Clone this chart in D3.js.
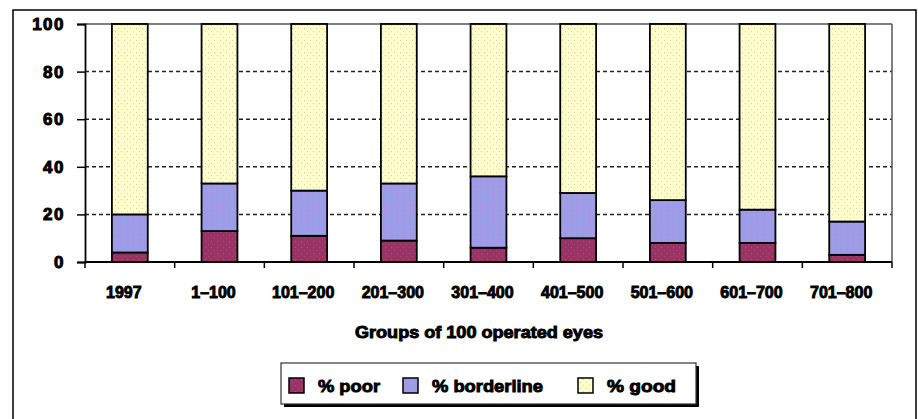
<!DOCTYPE html>
<html>
<head>
<meta charset="utf-8">
<script src="https://cdn.jsdelivr.net/npm/d3@7/dist/d3.min.js"></script>
<style>
  html, body { margin: 0; padding: 0; background: #fff; }
  svg { display: block; }
  text { font-family: "Liberation Sans", Arial, sans-serif; font-weight: bold; fill: #000; }
</style>
</head>
<body>
<svg id="chart" width="918" height="419"></svg>
<script>
const categories = ["1997", "1–100", "101–200", "201–300", "301–400", "401–500", "501–600", "601–700", "701–800"];
const poor       = [4, 13, 11, 9, 6, 10, 8, 8, 3];
const borderline = [16, 20, 19, 24, 30, 19, 18, 14, 14];
const good       = [80, 67, 70, 67, 64, 71, 74, 78, 83];
const seriesNames = ["% poor", "% borderline", "% good"];
const yTicks = [0, 20, 40, 60, 80, 100];
const xTitle = "Groups of 100 operated eyes";

const svg = d3.select("#chart");
const defs = svg.append("defs");

function dotPattern(id, bg, dots) {
  const p = defs.append("pattern").attr("id", id).attr("patternUnits", "userSpaceOnUse")
    .attr("width", 6).attr("height", 6);
  p.append("rect").attr("width", 6).attr("height", 6).attr("fill", bg);
  p.append("rect").attr("x", 1).attr("y", 1).attr("width", 1).attr("height", 1).attr("fill", dots[0]);
  p.append("rect").attr("x", 4).attr("y", 4).attr("width", 1).attr("height", 1).attr("fill", dots[1]);
}
dotPattern("pPoor", "#993366", ["#b5527f", "#a84a74"]);
dotPattern("pBord", "#9c9ce8", ["#d07ad0", "#b8a0c8"]);
dotPattern("pGood", "#ffffcc", ["#c8d8b8", "#d0c8c0"]);
const fills = ["url(#pPoor)", "url(#pBord)", "url(#pGood)"];

// outer frame
svg.append("rect").attr("x", 13).attr("y", 10).attr("width", 903).attr("height", 430)
  .attr("fill", "none").attr("stroke", "#000").attr("stroke-width", 1.5);

const pL = 85, pR = 892, pT = 24, pB = 262;
const x = d3.scaleBand().domain(categories).range([pL, pR]).paddingInner(0.6).paddingOuter(0.3);
const y = d3.scaleLinear().domain([0, 100]).range([pB, pT]);

// gridlines
svg.append("g").selectAll("line").data(yTicks.filter(v => v > 0 && v < 100)).join("line")
  .attr("x1", pL).attr("x2", pR).attr("y1", d => y(d)).attr("y2", d => y(d))
  .attr("stroke", "#222").attr("stroke-width", 1.5).attr("stroke-dasharray", "4,3");

// plot frame top & right
svg.append("line").attr("x1", pL).attr("x2", pR).attr("y1", y(100)).attr("y2", y(100))
  .attr("stroke", "#555").attr("stroke-width", 1.5);
svg.append("line").attr("x1", pR).attr("x2", pR).attr("y1", y(100)).attr("y2", y(0))
  .attr("stroke", "#555").attr("stroke-width", 1.5);

// stacked bars
const data = categories.map((c, i) => ({ cat: c, vals: [poor[i], borderline[i], good[i]] }));
const stack = [];
data.forEach(d => {
  let acc = 0;
  d.vals.forEach((v, k) => { stack.push({ cat: d.cat, y0: acc, y1: acc + v, k }); acc += v; });
});
svg.append("g").selectAll("rect").data(stack).join("rect")
  .attr("x", d => x(d.cat)).attr("width", x.bandwidth())
  .attr("y", d => y(d.y1)).attr("height", d => y(d.y0) - y(d.y1))
  .attr("fill", d => fills[d.k]).attr("stroke", "#000").attr("stroke-width", 1.8);

// y axis
const yAxis = svg.append("g").attr("transform", `translate(${pL},0)`)
  .call(d3.axisLeft(y).tickValues(yTicks).tickSize(8).tickPadding(12).tickFormat(d3.format("d")));
yAxis.select(".domain").attr("stroke", "#000").attr("stroke-width", 1.8);
yAxis.selectAll(".tick line").attr("stroke", "#000").attr("stroke-width", 1.5);
yAxis.selectAll("text").attr("font-size", 17).attr("font-family", "Liberation Sans, Arial, sans-serif")
  .attr("font-weight", "bold").attr("stroke", "#000").attr("stroke-width", 1).attr("letter-spacing", 1.5);

// x axis
const step = x.step();
const xAxis = svg.append("g").attr("transform", `translate(0,${pB})`);
xAxis.append("line").attr("x1", pL).attr("x2", pR).attr("stroke", "#000").attr("stroke-width", 1.8);
const bounds = categories.map(c => x(c) - (step - x.bandwidth()) / 2).concat([pR]);
xAxis.selectAll("line.tk").data(bounds).join("line").attr("class", "tk")
  .attr("x1", d => d).attr("x2", d => d).attr("y1", 0).attr("y2", 6)
  .attr("stroke", "#000").attr("stroke-width", 1.5);
xAxis.selectAll("text").data(categories).join("text")
  .attr("x", d => x(d) + x.bandwidth() / 2 - 6).attr("y", 36)
  .attr("text-anchor", "middle").attr("font-size", 16)
  .attr("stroke", "#000").attr("stroke-width", 0.9)
  .text(d => d);

// x title
svg.append("text").attr("x", 479).attr("y", 338).attr("text-anchor", "middle")
  .attr("font-size", 16).attr("stroke", "#000").attr("stroke-width", 0.9)
  .attr("textLength", 248).attr("lengthAdjust", "spacingAndGlyphs").text(xTitle);

// legend
const lg = svg.append("g");
lg.append("rect").attr("x", 284).attr("y", 366).attr("width", 415).attr("height", 41).attr("fill", "#000");
lg.append("rect").attr("x", 281).attr("y", 363).attr("width", 415).attr("height", 41)
  .attr("fill", "#fff").attr("stroke", "#333").attr("stroke-width", 1.2);
const legX = [289, 403, 578];
const legTxtLen = [62, 111, 69];
seriesNames.forEach((n, i) => {
  lg.append("rect").attr("x", legX[i]).attr("y", 378).attr("width", 15).attr("height", 15)
    .attr("fill", fills[i]).attr("stroke", "#000").attr("stroke-width", 1.5);
  lg.append("text").attr("x", legX[i] + 29).attr("y", 392).attr("font-size", 17)
    .attr("stroke", "#000").attr("stroke-width", 0.9)
    .attr("textLength", legTxtLen[i]).attr("lengthAdjust", "spacingAndGlyphs").text(n);
});
</script>
</body>
</html>
